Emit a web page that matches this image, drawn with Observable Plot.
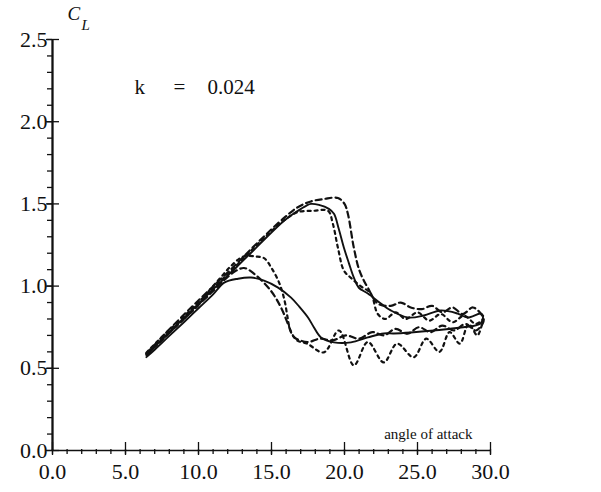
<!DOCTYPE html>
<html>
<head>
<meta charset="utf-8">
<script src="https://cdn.jsdelivr.net/npm/d3@7"></script>
<script src="https://cdn.jsdelivr.net/npm/@observablehq/plot@0.6"></script>
<style>
  html, body { margin: 0; padding: 0; background: #fff; }
  #chart svg { display: block; }
</style>
</head>
<body>
<div id="chart"></div>
<script>
// ---- tick values ----
const xMajor = [0, 5, 10, 15, 20, 25, 30];
const xMinor = d3.range(0, 31, 1);
const yMajor = [0, 0.5, 1.0, 1.5, 2.0, 2.5];
const yMinor = d3.range(0, 26, 1).map(d => d / 10);

// ---- solid curve (upstroke / downstroke) ----
const solidUpAlpha = [6.43, 7.6, 8.82, 10.2, 11.55, 12.6, 13.6, 14.7, 15.86, 16.5, 17.02, 17.4, 17.7, 18.25, 18.93, 19.28, 19.6, 19.96, 20.3, 20.64, 20.98, 21.6, 22.49, 23.17, 24.33, 25.43, 26.59, 27.75, 28.43, 29.32, 29.5];
const solidUpCL    = [0.58, 0.685, 0.79, 0.91, 1.027, 1.115, 1.203, 1.30, 1.397, 1.44, 1.47, 1.49, 1.50, 1.494, 1.47, 1.44, 1.35, 1.233, 1.14, 1.052, 0.99, 0.955, 0.894, 0.852, 0.809, 0.821, 0.852, 0.833, 0.809, 0.833, 0.82];
const solidDownAlpha = [29.5, 29.32, 27.96, 26.11, 24.54, 23.38, 22.69, 21.6, 20.44, 19.28, 18.39, 17.9, 17.5, 16.9, 16.34, 15.45, 14.49, 13.6, 12.71, 11.76, 11.0, 10.0, 9.0, 8.0, 7.0, 6.43];
const solidDownCL    = [0.82, 0.773, 0.748, 0.73, 0.718, 0.712, 0.712, 0.688, 0.658, 0.658, 0.688, 0.75, 0.809, 0.875, 0.93, 0.991, 1.033, 1.052, 1.045, 1.021, 0.95, 0.865, 0.78, 0.697, 0.613, 0.568];

// ---- long-dash curve ----
const dashAUpAlpha = [6.43, 7.6, 8.82, 10.2, 11.55, 12.6, 13.6, 14.7, 15.86, 16.8, 17.7, 18.6, 19.55, 20.0, 20.23, 20.64, 21.0, 21.33, 21.6, 22.28, 23.17, 23.86, 24.54, 25.3, 26.0, 26.7, 27.4, 28.1, 28.8, 29.5];
const dashAUpCL    = [0.59, 0.70, 0.81, 0.93, 1.045, 1.135, 1.225, 1.32, 1.415, 1.48, 1.515, 1.53, 1.536, 1.50, 1.44, 1.233, 1.10, 1.033, 0.99, 0.894, 0.88, 0.90, 0.87, 0.86, 0.88, 0.84, 0.87, 0.83, 0.87, 0.81];
const dashADownAlpha = [29.5, 29.0, 28.3, 27.5, 26.7, 25.9, 25.1, 24.3, 23.5, 22.7, 21.9, 21.0, 20.1, 19.2, 18.3, 17.5, 16.54, 16.13, 15.65, 14.97, 13.8, 13.12, 12.5, 11.8, 11.0, 10.0, 9.0, 8.0, 7.0, 6.43];
const dashADownCL    = [0.78, 0.73, 0.77, 0.73, 0.76, 0.72, 0.75, 0.71, 0.74, 0.70, 0.72, 0.68, 0.70, 0.67, 0.68, 0.66, 0.69, 0.77, 0.87, 0.97, 1.076, 1.11, 1.09, 1.04, 0.97, 0.885, 0.80, 0.715, 0.63, 0.585];

// ---- short-dash curve ----
const dashBUpAlpha = [6.43, 7.6, 8.82, 10.2, 11.55, 12.6, 13.6, 14.7, 15.86, 16.8, 17.9, 18.87, 19.2, 19.55, 19.96, 20.44, 21.1, 21.8, 22.28, 22.8, 23.5, 24.2, 25.0, 25.8, 26.6, 27.4, 28.2, 29.0, 29.5];
const dashBUpCL    = [0.595, 0.70, 0.80, 0.92, 1.035, 1.125, 1.215, 1.31, 1.40, 1.45, 1.458, 1.458, 1.38, 1.233, 1.094, 1.05, 1.00, 0.955, 0.83, 0.80, 0.84, 0.80, 0.84, 0.79, 0.83, 0.78, 0.82, 0.77, 0.80];
const dashBDownAlpha = [29.5, 29.1, 28.5, 27.9, 27.2, 26.5, 25.6, 24.74, 23.6, 22.69, 21.6, 20.64, 19.62, 18.59, 17.44, 16.75, 16.3, 16.1, 15.9, 15.55, 15.0, 14.49, 13.9, 13.07, 12.2, 11.5, 10.8, 10.0, 9.0, 8.0, 7.0, 6.43];
const dashBDownCL    = [0.80, 0.70, 0.77, 0.65, 0.72, 0.60, 0.68, 0.567, 0.65, 0.536, 0.66, 0.518, 0.73, 0.597, 0.65, 0.67, 0.73, 0.81, 0.91, 1.015, 1.11, 1.17, 1.18, 1.18, 1.12, 1.05, 0.98, 0.885, 0.80, 0.715, 0.63, 0.59];

const toRows = (a, c) => a.map((x, i) => ({a: x, cl: c[i]}));
const solid = toRows(solidUpAlpha, solidUpCL).concat(toRows(solidDownAlpha, solidDownCL));
const dashA = toRows(dashAUpAlpha, dashAUpCL).concat(toRows(dashADownAlpha, dashADownCL));
const dashB = toRows(dashBUpAlpha, dashBUpCL).concat(toRows(dashBDownAlpha, dashBDownCL));

const ink = "#111";
const serif = '"Liberation Serif", "Times New Roman", Times, serif';

const chart = Plot.plot({
  width: 601,
  height: 492,
  marginLeft: 52,
  marginRight: 111,
  marginTop: 39,
  marginBottom: 42,
  x: {domain: [0, 30]},
  y: {domain: [0, 2.5]},
  style: {fontFamily: serif, background: "#fff", color: ink},
  marks: [
    // axis lines
    Plot.ruleY([0], {x1: 0, x2: 30, stroke: ink, strokeWidth: 1.7}),
    Plot.ruleX([0], {y1: 0, y2: 2.5, stroke: ink, strokeWidth: 2.3}),
    // minor ticks
    Plot.ruleX(xMinor, {x: d => d, y1: 0, y2: 0, insetTop: -1, insetBottom: -4, stroke: ink, strokeWidth: 1.3}),
    Plot.ruleY(yMinor, {y: d => d, x1: 0, x2: 0, insetLeft: -5, insetRight: 0, stroke: ink, strokeWidth: 1.3}),
    // major ticks
    Plot.ruleX(xMajor, {x: d => d, y1: 0, y2: 0, insetTop: -8, insetBottom: -5, stroke: ink, strokeWidth: 1.3}),
    Plot.ruleY(yMajor, {y: d => d, x1: 0, x2: 0, insetLeft: -6, insetRight: -7, stroke: ink, strokeWidth: 1.3}),
    // tick labels
    Plot.axisX({ticks: xMajor, label: null, tickSize: 0, tickPadding: 13, tickFormat: d => d.toFixed(1), fontSize: 22, fontFamily: serif, fill: ink}),
    Plot.axisY({ticks: yMajor, label: null, tickSize: 0, tickPadding: 5, tickFormat: d => d.toFixed(1), fontSize: 22, fontFamily: serif, fill: ink}),
    // curves
    Plot.line(solid, {x: "a", y: "cl", stroke: ink, strokeWidth: 1.9, curve: "catmull-rom"}),
    Plot.line(dashA, {x: "a", y: "cl", stroke: ink, strokeWidth: 2.2, strokeDasharray: "6,4", curve: "catmull-rom"}),
    Plot.line(dashB, {x: "a", y: "cl", stroke: ink, strokeWidth: 2.2, strokeDasharray: "3,4", curve: "catmull-rom"}),
    // annotations
    Plot.text(["C"], {frameAnchor: "top-left", dx: 15, dy: -33, text: d => d, fontSize: 19, fontFamily: serif, fontStyle: "italic", textAnchor: "start", fill: ink}),
    Plot.text(["L"], {frameAnchor: "top-left", dx: 29, dy: -20, text: d => d, fontSize: 15, fontFamily: serif, fontStyle: "italic", textAnchor: "start", fill: ink}),
    Plot.text(["k"], {frameAnchor: "top-left", dx: 82, dy: 40, text: d => d, fontSize: 21, fontFamily: serif, textAnchor: "start", fill: ink}),
    Plot.text(["="], {frameAnchor: "top-left", dx: 121, dy: 40, text: d => d, fontSize: 21, fontFamily: serif, textAnchor: "start", fill: ink}),
    Plot.text(["0.024"], {frameAnchor: "top-left", dx: 155, dy: 40, text: d => d, fontSize: 21, fontFamily: serif, textAnchor: "start", fill: ink}),
    Plot.text(["angle of attack"], {frameAnchor: "bottom-right", dx: -18, dy: -12, text: d => d, fontSize: 15, fontFamily: serif, textAnchor: "end", fill: ink})
  ]
});
document.getElementById("chart").appendChild(chart);
</script>
</body>
</html>
